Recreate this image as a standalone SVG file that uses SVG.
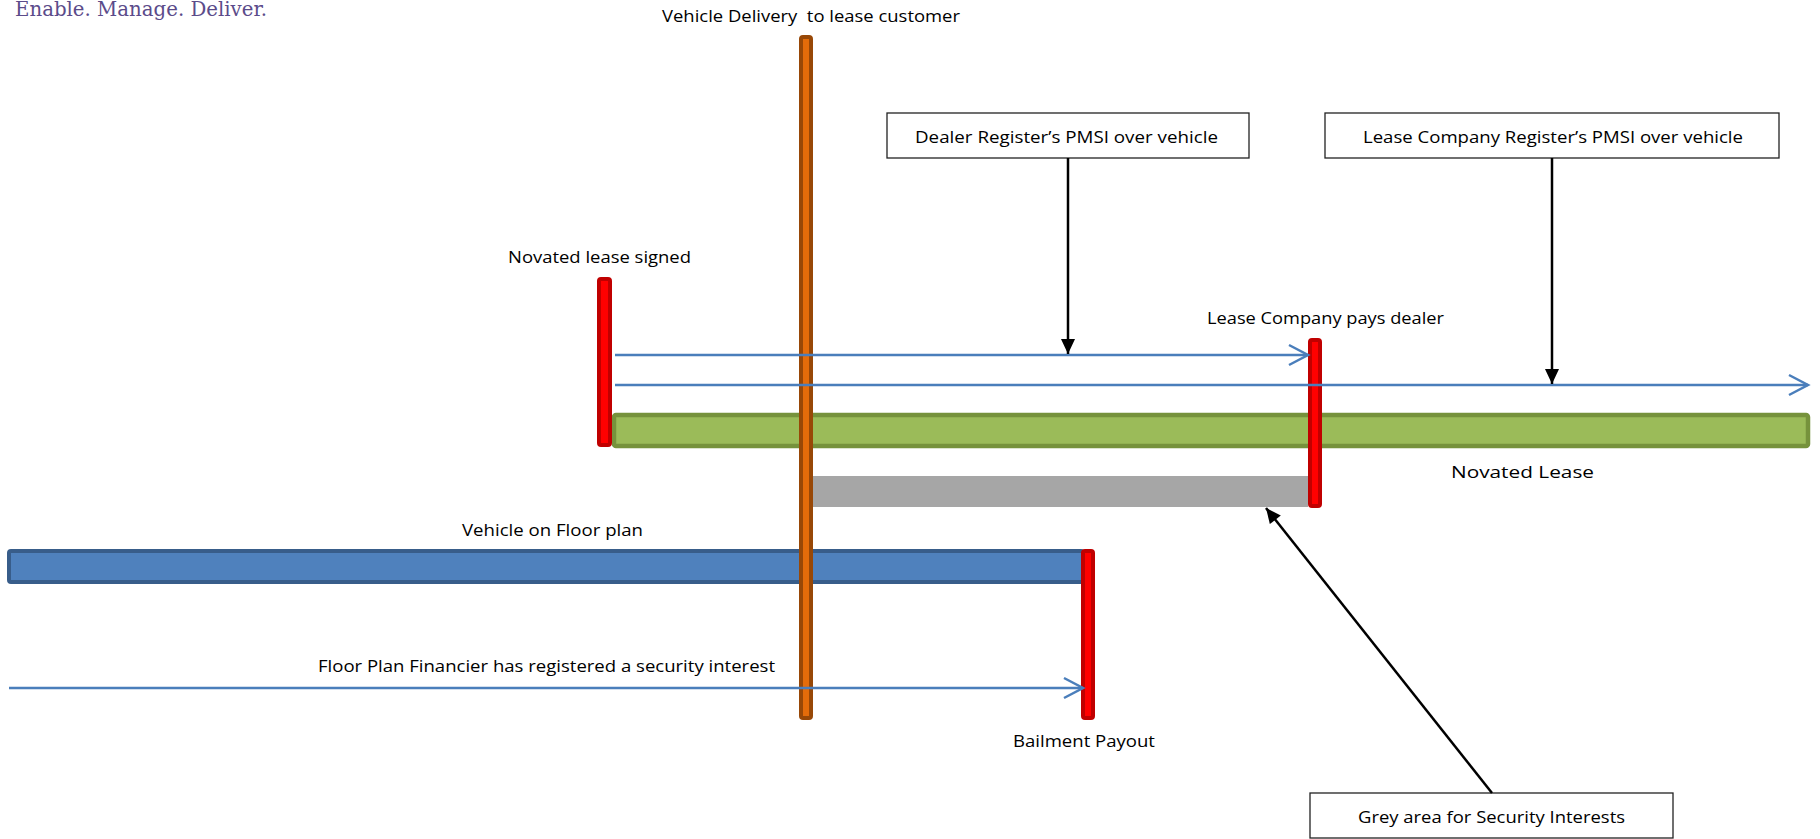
<svg xmlns="http://www.w3.org/2000/svg" width="1820" height="839" viewBox="0 0 1820 839">
<style>
.t{font-family:"Open Sans","Liberation Sans",Arial,sans-serif;font-size:17px;fill:#000}
.box{fill:#fff;stroke:#222;stroke-width:1.3}
.red{fill:#ff0000;stroke:#c00000;stroke-width:4}
.blu{stroke:#4a7ebb;stroke-width:2.5;fill:none}
.blk{stroke:#000;stroke-width:2.5;fill:none}
</style>
<defs>
<marker id="chev" viewBox="-24 -13 27 26" markerWidth="27" markerHeight="26" refX="0" refY="0" orient="auto" markerUnits="userSpaceOnUse">
<path d="M-19,-10 L0,0 L-19,10" fill="none" stroke="#4a7ebb" stroke-width="2.5"/>
</marker>
<marker id="tri" viewBox="-16 -8 17 16" markerWidth="17" markerHeight="16" refX="0" refY="0" orient="auto" markerUnits="userSpaceOnUse">
<path d="M-15,-7 L0,0 L-15,7 Z" fill="#000"/>
</marker>
</defs>
<rect width="1820" height="839" fill="#fff"/>
<g id="logo"><text x="15" y="16" font-family="DejaVu Serif,serif" font-size="21" fill="#5b4b8a" textLength="252" lengthAdjust="spacingAndGlyphs">Enable. Manage. Deliver.</text></g>

<g id="floorplan-bar"><rect x="9" y="551" width="1074" height="31" rx="2" fill="#4f81bd" stroke="#385d8a" stroke-width="4"/>
<text class="t" x="462" y="536" textLength="181" lengthAdjust="spacingAndGlyphs">Vehicle on Floor plan</text></g>

<g id="novated-lease-bar"><rect x="614" y="415" width="1194" height="31" rx="2" fill="#9bbb59" stroke="#76923c" stroke-width="4.5"/>
<text class="t" x="1451" y="478" textLength="143" lengthAdjust="spacingAndGlyphs">Novated Lease</text></g>

<g id="grey-area"><rect x="812" y="476" width="496" height="31" fill="#a6a6a6"/></g>

<g id="vehicle-delivery"><rect x="801" y="37" width="10" height="681" rx="2" fill="#e46c0a" stroke="#984807" stroke-width="4"/>
<text class="t" x="662" y="22" textLength="298" lengthAdjust="spacingAndGlyphs" xml:space="preserve">Vehicle Delivery  to lease customer</text></g>

<g id="novated-lease-signed"><rect class="red" x="599" y="279" width="11" height="166" rx="2"/>
<text class="t" x="508" y="263" textLength="183" lengthAdjust="spacingAndGlyphs">Novated lease signed</text></g>

<g id="lease-company-pays"><rect class="red" x="1310" y="340" width="10" height="166" rx="2"/>
<text class="t" x="1207" y="324" textLength="237" lengthAdjust="spacingAndGlyphs">Lease Company pays dealer</text></g>

<g id="bailment-payout"><rect class="red" x="1083" y="551" width="10" height="167" rx="2"/>
<text class="t" x="1013" y="747" textLength="142" lengthAdjust="spacingAndGlyphs">Bailment Payout</text></g>

<g id="dealer-pmsi"><rect class="box" x="887" y="113" width="362" height="45"/>
<text class="t" x="915" y="143" textLength="303" lengthAdjust="spacingAndGlyphs">Dealer Register’s PMSI over vehicle</text></g>

<g id="lease-pmsi"><rect class="box" x="1325" y="113" width="454" height="45"/>
<text class="t" x="1363" y="143" textLength="380" lengthAdjust="spacingAndGlyphs">Lease Company Register’s PMSI over vehicle</text></g>

<g id="grey-label"><rect class="box" x="1310" y="793" width="363" height="45"/>
<text class="t" x="1358" y="823" textLength="267" lengthAdjust="spacingAndGlyphs">Grey area for Security Interests</text></g>

<g id="floorplan-si"><text class="t" x="318" y="672" textLength="457" lengthAdjust="spacingAndGlyphs">Floor Plan Financier has registered a security interest</text></g>

<g id="connectors">
<line class="blu" x1="615" y1="355" x2="1308" y2="355" marker-end="url(#chev)"/>
<line class="blu" x1="615" y1="385" x2="1808" y2="385" marker-end="url(#chev)"/>
<line class="blu" x1="9" y1="688" x2="1083" y2="688" marker-end="url(#chev)"/>
<line class="blk" x1="1068" y1="158" x2="1068" y2="354" marker-end="url(#tri)"/>
<line class="blk" x1="1552" y1="158" x2="1552" y2="384" marker-end="url(#tri)"/>
<line class="blk" x1="1492" y1="793" x2="1266" y2="508" marker-end="url(#tri)"/>
</g>
</svg>
